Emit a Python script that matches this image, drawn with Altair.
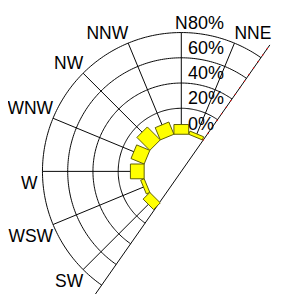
import altair as alt
import pandas as pd

# ---- data ----
directions = ["NNE", "N", "NNW", "NW", "WNW", "W", "WSW", "SW"]
angles = [22.5, 0, 337.5, 315, 292.5, 270, 247.5, 225]
values = [2.7, 7.7, 10.5, 14.5, 11.3, 10.9, 3.0, 7.5]
rings = [20, 40, 60, 80]
ring_values = [0, 20, 40, 60, 80]
ring_labels = ["0%", "20%", "40%", "60%", "80%"]
sector_start, sector_end = 215, 395   # visible half-disc (compass degrees)

# ---- geometry / style ----
R0 = 39.0          # pixel radius of 0%
K = 1.3            # pixels per percent
RMAX = R0 + K * 80
HALF = 11.25       # half sector width of a bar (deg)
W, H = 275, 286
CX, CY = 178.5, 164
x_scale = alt.Scale(domain=[-CX, W - CX], nice=False, zero=False)
y_scale = alt.Scale(domain=[-(H - CY), CY], nice=False, zero=False)
D = "PI/180"

def xy(**kw):
    return dict(x=alt.X("x:Q", scale=x_scale, axis=None),
                y=alt.Y("y:Q", scale=y_scale, axis=None), **kw)

dir_df = pd.DataFrame({"dir": directions, "ang": angles, "val": values})

# rings
ring_layer = alt.Chart(alt.sequence(sector_start, sector_end + 0.5, 1, as_="a")).transform_calculate(
    rs=str(rings)
).transform_flatten(["rs"]).transform_calculate(
    x=f"({R0}+{K}*datum.rs)*sin(datum.a*{D})",
    y=f"({R0}+{K}*datum.rs)*cos(datum.a*{D})",
).mark_line(color="black", strokeWidth=1).encode(
    **xy(detail=alt.Detail("rs:Q"), order=alt.Order("a:Q"))
)

# spokes
spoke_layer = alt.Chart(dir_df).transform_calculate(
    x=f"{R0}*sin(datum.ang*{D})", y=f"{R0}*cos(datum.ang*{D})",
    x2=f"{RMAX}*sin(datum.ang*{D})", y2=f"{RMAX}*cos(datum.ang*{D})",
).mark_rule(color="black", strokeWidth=1).encode(
    **xy(x2="x2:Q", y2="y2:Q")
)

# sector edge
edge_df = pd.DataFrame({"a1": [sector_end], "a2": [sector_start]})
edge_layer = alt.Chart(edge_df).transform_calculate(
    x=f"159*sin(datum.a1*{D})", y=f"159*cos(datum.a1*{D})",
    x2=f"175*sin(datum.a2*{D})", y2=f"175*cos(datum.a2*{D})",
).mark_rule(color="black", strokeWidth=1).encode(**xy(x2="x2:Q", y2="y2:Q"))

dots_layer = alt.Chart(edge_df).transform_calculate(
    x=f"{R0}*sin(datum.a1*{D})", y=f"{R0}*cos(datum.a1*{D})",
    x2=f"159*sin(datum.a1*{D})", y2=f"159*cos(datum.a1*{D})",
).mark_rule(color="red", strokeWidth=1.2, strokeDash=[1.2, 7]).encode(**xy(x2="x2:Q", y2="y2:Q"))

# bars as rectangles
bar_layer = alt.Chart(dir_df).transform_calculate(
    k="[0,1,2,3,4]"
).transform_flatten(["k"]).transform_calculate(
    side="(datum.k==1||datum.k==2) ? 1 : -1",
    outer="(datum.k==2||datum.k==3) ? 1 : 0",
).transform_calculate(
    x=f"{R0}*sin((datum.ang+datum.side*{HALF})*{D}) + datum.outer*{K}*datum.val*sin(datum.ang*{D})",
    y=f"{R0}*cos((datum.ang+datum.side*{HALF})*{D}) + datum.outer*{K}*datum.val*cos(datum.ang*{D})",
).mark_line(fill="#ffff00", stroke="#5c5c00", strokeWidth=1, fillOpacity=1).encode(
    **xy(detail=alt.Detail("dir:N"), order=alt.Order("k:Q"))
)

# direction labels
lab_base = alt.Chart(dir_df).transform_calculate(
    s=f"sin(datum.ang*{D})", c=f"cos(datum.ang*{D})",
).transform_calculate(
    x=f"{RMAX}*datum.s + (abs(datum.c)<0.01 ? -5 : 0)",
    y=f"{RMAX}*datum.c + (datum.c>0.01 ? 4 : -18)",
)
lab_font = dict(font="Liberation Sans", fontSize=18, color="black", baseline="alphabetic")
lab_right = lab_base.transform_filter("datum.s < -0.01").mark_text(align="right", **lab_font).encode(**xy(text="dir:N"))
lab_left = lab_base.transform_filter("datum.s > 0.01").mark_text(align="left", **lab_font).encode(**xy(text="dir:N"))
lab_center = lab_base.transform_filter("abs(datum.s) <= 0.01").mark_text(align="center", **lab_font).encode(**xy(text="dir:N"))

# radial labels
rl_df = pd.DataFrame({"p": ring_values, "lab": ring_labels})
rl_layer = alt.Chart(rl_df).transform_calculate(
    x="0", y=f"{R0}+{K}*datum.p+4"
).mark_text(align="left", dx=7, baseline="alphabetic",
            font="Liberation Sans Narrow, Arial Narrow, sans-serif", fontSize=18.5, color="black").encode(**xy(text="lab:N"))

chart = alt.layer(
    ring_layer, spoke_layer, edge_layer, dots_layer, bar_layer,
    lab_right, lab_left, lab_center, rl_layer
).properties(
    width=W, height=H, autosize=alt.AutoSizeParams(type="none"), padding=0
).configure_view(stroke=None)

chart.save("out.html", embed_options={"renderer": "svg", "actions": False})
